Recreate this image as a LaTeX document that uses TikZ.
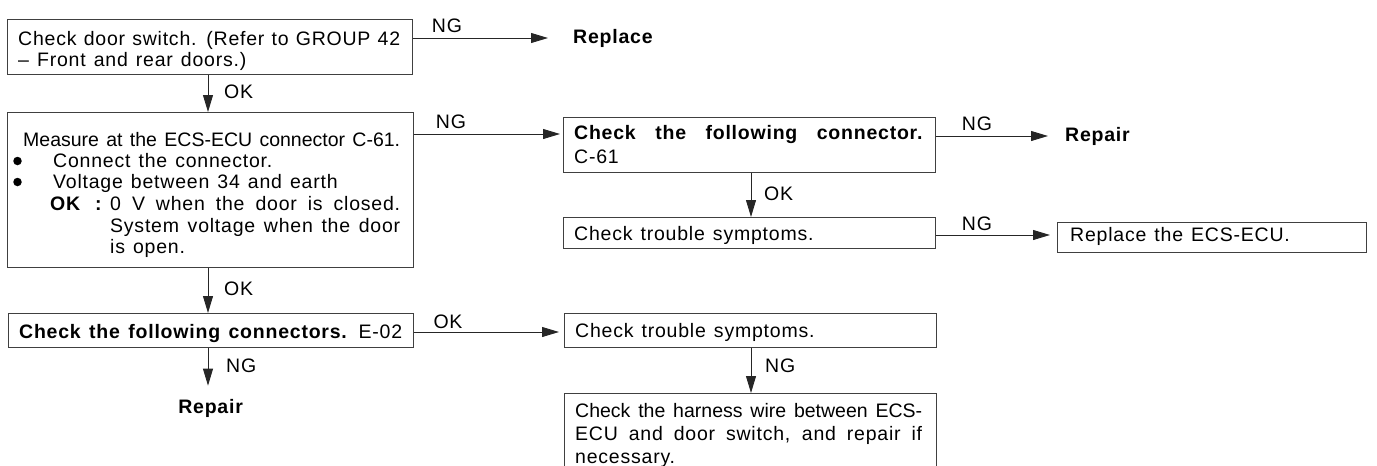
\documentclass[tikz,border=0pt]{standalone}
\usepackage{fontspec}
\setmainfont{Liberation Sans}[LetterSpace=4,WordSpace=1.3]
\usetikzlibrary{arrows.meta,calc}

% a line of text spread to a fixed width (in pt)
\newcommand{\jline}[2]{\makebox[#1pt][s]{#2}}

\begin{document}
\begin{tikzpicture}[x=1pt,y=-1pt,
  every node/.style={font=\fontsize{19.5pt}{22pt}\selectfont, inner sep=0pt, text=black},
  box/.style={draw=black!75, line width=0.9pt, anchor=north west, inner sep=0pt},
  txt/.style={anchor=base west},
  lbl/.style={anchor=base},
  lblr/.style={anchor=base west},
  dot/.style={circle, fill=black, minimum size=8.5pt},
  arr/.style={draw=black!85, line width=0.9pt, -{Triangle[length=17pt,width=10pt]}}]

\useasboundingbox (0,0) rectangle (1377,466);
\clip (0,0) rectangle (1377,466);

% column axes and branch rows
\coordinate (cL) at (208,0);
\coordinate (cM) at (751,0);
\coordinate (y2) at (0,134);
\coordinate (y3) at (0,332);
\coordinate (y5) at (0,235);

% ---------- boxes ----------
\node[box, minimum width=405pt, minimum height=55pt]  (b1) at (7,19) {};
\node[box, minimum width=406pt, minimum height=155pt] (b2) at (7,112) {};
\node[box, minimum width=405pt, minimum height=34pt]  (b3) at (8,313) {};
\node[box, minimum width=372pt, minimum height=55pt]  (b4) at (563,117) {};
\node[box, minimum width=372pt, minimum height=31pt]  (b5) at (563,217) {};
\node[box, minimum width=309pt, minimum height=30pt]  (b6) at (1057,222) {};
\node[box, minimum width=372pt, minimum height=34pt]  (b7) at (564,313) {};
\node[box, minimum width=372pt, minimum height=90pt]  (b8) at (564,393) {};

% ---------- box texts ----------
\node[txt] (t1a) at (18,45) {\jline{382}{Check door switch. (Refer to GROUP 42}};
\node[txt] (t1b) at (18,66.5) {– Front and rear doors.)};

\node[txt] (t2a) at (23,146) {\addfontfeature{LetterSpace=0}\jline{377}{Measure at the ECS-ECU connector C-61.}};
\node[dot] (bu1) at (17.5,161) {};
\node[txt] (t2b) at (53,167) {Connect the connector.};
\node[dot] (bu2) at (17.5,182) {};
\node[txt] (t2c) at (53,188) {Voltage between 34 and earth};
\node[txt] (t2d) at (50,210) {\textbf{OK}};
\node[txt] (t2e) at (95,210) {\textbf{:}};
\node[txt] (t2f) at (110,210) {\jline{290}{0 V when the door is closed.}};
\node[txt] (t2g) at (110,232) {\jline{290}{System voltage when the door}};
\node[txt] (t2h) at (110,253) {is open.};

\node[txt] (t3) at (19,338) {\jline{383}{\textbf{Check the following connectors.} E-02}};

\node[txt] (t4a) at (574,139) {\jline{349}{\textbf{Check the following connector.}}};
\node[txt] (t4b) at (574,163) {C-61};
\node[txt] (t5) at (574,240) {Check trouble symptoms.};
\node[txt] (t6) at (1070,241) {Replace the ECS-ECU.};
\node[txt] (t7) at (575,337) {Check trouble symptoms.};
\node[txt] (t8a) at (575,417) {\addfontfeature{LetterSpace=0}\jline{347}{Check the harness wire between ECS-}};
\node[txt] (t8b) at (575,440) {\jline{347}{ECU and door switch, and repair if}};
\node[txt] (t8c) at (575,463) {necessary.};

% ---------- end results ----------
\node[anchor=west] (rep1) at (573,38) {\textbf{Replace}};
\node[anchor=west] (rep2) at (1065,136) {\textbf{Repair}};
\node[anchor=base] (rep3) at (211,413) {\textbf{Repair}};

% ---------- connectors ----------
\draw[arr, shorten >=25pt] (b1.east |- rep1.west) -- (rep1.west);
\draw[arr] (b1.south -| cL) -- (b2.north -| cL);
\draw[arr, shorten >=3pt] (b2.east |- y2) -- (b4.west |- y2);
\draw[arr] (b2.south -| cL) -- (b3.north -| cL);
\draw[arr, shorten >=13pt] (b3.south -| cL) -- (rep3.north -| cL);
\draw[arr, shorten >=5pt] (b3.east |- y3) -- (b7.west |- y3);
\draw[arr, shorten >=17pt] (b4.east |- rep2.west) -- (rep2.west);
\draw[arr] (b4.south -| cM) -- (b5.north -| cM);
\draw[arr, shorten >=7pt] (b5.east |- y5) -- (b6.west |- y5);
\draw[arr] (b7.south -| cM) -- (b8.north -| cM);

% ---------- branch labels ----------
\node[lbl]  (l1) at (447,32) {NG};
\node[lblr] (l2) at (224,98) {OK};
\node[lbl]  (l3) at (451,128) {NG};
\node[lblr] (l4) at (224,295) {OK};
\node[lblr] (l5) at (226,372) {NG};
\node[lbl]  (l6) at (448,328) {OK};
\node[lbl]  (l7) at (977,130) {NG};
\node[lblr] (l8) at (764,200) {OK};
\node[lbl]  (l9) at (977,230) {NG};
\node[lblr] (l10) at (765,372) {NG};

\end{tikzpicture}
\end{document}
